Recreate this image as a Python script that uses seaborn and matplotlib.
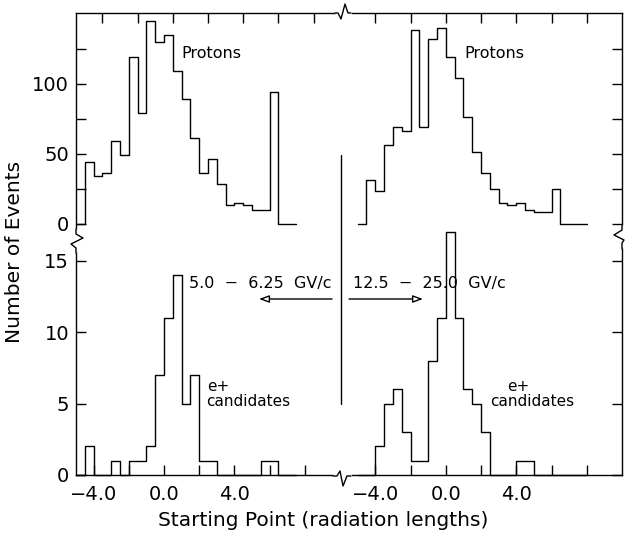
import matplotlib
matplotlib.use("Agg")

import matplotlib.pyplot as plt
import numpy as np
import pandas as pd
import seaborn as sns
from matplotlib.lines import Line2D


# -------------------------------------------------
# Data (counts per 0.5 radiation-length bin)
# -------------------------------------------------

BIN_WIDTH = 0.5

# 5.0 - 6.25 GV/c, bins start at -5.0
protons_low_first_edge = -5.0
protons_low = [0, 44, 34, 36, 59, 49, 119, 79, 145, 130,
               135, 109, 89, 61, 36, 46, 28, 13, 15, 13,
               10, 10, 94, 0, 0]

positrons_low_first_edge = -5.0
positrons_low = [0, 2, 0, 0, 1, 0, 1, 1, 2, 7,
                 11, 14, 5, 7, 1, 1, 0, 0, 0, 0,
                 0, 1, 1, 0, 0]

# 12.5 - 25.0 GV/c, bins start at -5.0
protons_high_first_edge = -5.0
protons_high = [0, 31, 23, 56, 69, 66, 138, 69, 132, 140,
                119, 104, 76, 51, 36, 25, 15, 13, 15, 10,
                8, 8, 25, 0, 0, 0]

positrons_high_first_edge = -5.0
positrons_high = [0, 0, 2, 5, 6, 3, 1, 1, 8, 11,
                  17, 11, 6, 5, 3, 0, 0, 0, 1, 1,
                  0, 0, 0, 0, 0, 0]

bottom_ticks = [-4, -2, 0, 2, 4, 6, 8]
bottom_tick_labels = ["\u22124.0", "", "0.0", "", "4.0", "", ""]
top_ticks_low = [-3.5, -1.5, 0.5, 2.5, 4.5, 6.5, 8.5]
proton_ticks = [0, 25, 50, 75, 100, 125]
proton_tick_labels = ["0", "", "50", "", "100", ""]
positron_ticks = [0, 5, 10, 15]
positron_tick_labels = ["0", "5", "10", "15"]


# -------------------------------------------------
# Helpers
# -------------------------------------------------

W, H = 625, 544


def fx(px):
    return px / W


def fy(py):
    return 1 - py / H


def step_hist(ax, counts, first_edge):
    edges = first_edge + BIN_WIDTH * np.arange(len(counts) + 1)
    hist_df = pd.DataFrame({
        "start": edges[:-1] + BIN_WIDTH / 2,
        "count": counts
    })
    sns.histplot(
        data=hist_df,
        x="start",
        weights="count",
        bins=edges.tolist(),
        element="step",
        fill=False,
        color="black",
        linewidth=1.0,
        clip_on=False,
        ax=ax
    )
    ax.set_xlabel("")
    ax.set_ylabel("")


def draw_break(fig, points, cover):
    # white out the straight spine, then draw the zigzag
    cx, cy = zip(*cover)
    fig.add_artist(Line2D([fx(v) for v in cx], [fy(v) for v in cy],
                          color="white", lw=3, transform=fig.transFigure,
                          zorder=10))
    px, py = zip(*points)
    fig.add_artist(Line2D([fx(v) for v in px], [fy(v) for v in py],
                          color="black", lw=1.0, transform=fig.transFigure,
                          zorder=11))


# -------------------------------------------------
# Figure
# -------------------------------------------------

sns.set_style("white")
plt.rcParams["font.family"] = ["DejaVu Sans"]
plt.rcParams["axes.linewidth"] = 1.0
plt.rcParams["text.color"] = "black"
plt.rcParams["axes.labelcolor"] = "black"

fig = plt.figure(figsize=(6.25, 5.44), dpi=100)

ax_tl = fig.add_axes([fx(76), fy(242), (340 - 76) / W, (242 - 13) / H])
ax_tr = fig.add_axes([fx(340), fy(242), (622 - 340) / W, (242 - 13) / H])
ax_bl = fig.add_axes([fx(76), fy(475), (340 - 76) / W, (475 - 242) / H])
ax_br = fig.add_axes([fx(340), fy(475), (622 - 340) / W, (475 - 242) / H])

step_hist(ax_tl, protons_low, protons_low_first_edge)
step_hist(ax_tr, protons_high, protons_high_first_edge)
step_hist(ax_bl, positrons_low, positrons_low_first_edge)
step_hist(ax_br, positrons_high, positrons_high_first_edge)

for ax in [ax_tl, ax_tr, ax_bl, ax_br]:
    ax.set_facecolor("none")
    ax.tick_params(direction="in", length=7, width=1.0,
                   labelsize=14, colors="black")
    for spine in ax.spines.values():
        spine.set_color("black")

for ax in [ax_tl, ax_bl]:
    ax.set_xlim(-5, 10)
for ax in [ax_tr, ax_br]:
    ax.set_xlim(-6, 10)
for ax in [ax_tl, ax_tr]:
    ax.set_ylim(-13.2, 150.4)
    ax.spines["bottom"].set_visible(False)
for ax in [ax_bl, ax_br]:
    ax.set_ylim(0, 16.3)
    ax.spines["top"].set_visible(False)

ax_tl.spines["right"].set_visible(False)
ax_bl.spines["right"].set_visible(False)
ax_tr.spines["left"].set_visible(False)
ax_br.spines["left"].set_visible(False)

# top row: ticks on top spine, proton scale
ax_tl.set_xticks(top_ticks_low)
ax_tr.set_xticks(bottom_ticks)
for ax in [ax_tl, ax_tr]:
    ax.tick_params(axis="x", top=True, bottom=False,
                   labeltop=False, labelbottom=False)
ax_tl.set_yticks(proton_ticks, proton_tick_labels)
ax_tl.tick_params(axis="y", left=True, right=False, pad=5)
ax_tr.set_yticks(proton_ticks)
ax_tr.tick_params(axis="y", left=False, right=True,
                  labelleft=False, labelright=False)

# bottom row: starting point scale, e+ counts
for ax in [ax_bl, ax_br]:
    ax.set_xticks(bottom_ticks, bottom_tick_labels)
    ax.tick_params(axis="x", top=False, bottom=True, pad=7)
ax_bl.set_yticks(positron_ticks, positron_tick_labels)
ax_bl.tick_params(axis="y", left=True, right=False, pad=5)
ax_br.set_yticks(positron_ticks)
ax_br.tick_params(axis="y", left=False, right=True,
                  labelleft=False, labelright=False)


# -------------------------------------------------
# Axis breaks
# -------------------------------------------------

draw_break(fig,
           [(335, 13), (338, 13), (341, 19), (345, 4), (348, 13), (351, 13)],
           [(337, 13), (350, 13)])
draw_break(fig,
           [(333, 476), (337, 476), (340, 471), (343, 486), (347, 476), (351, 476)],
           [(335, 476), (350, 476)])
draw_break(fig,
           [(76, 229), (76, 234), (83, 238), (71, 244), (76, 248), (76, 253)],
           [(76, 231), (76, 251)])
draw_break(fig,
           [(622, 225), (622, 230), (614, 235), (624, 240), (622, 243), (622, 249)],
           [(622, 227), (622, 247)])


# -------------------------------------------------
# Annotations
# -------------------------------------------------

fig.add_artist(Line2D([fx(341), fx(341)], [fy(155), fy(404)],
                      color="black", lw=1.0, transform=fig.transFigure))

arrow_style = dict(arrowstyle="-|>,head_length=0.6,head_width=0.22",
                   fc="white", ec="black", lw=1.0, shrinkA=0, shrinkB=0)
ax_bl.annotate("", xy=(fx(259), fy(299)), xytext=(fx(332), fy(299)),
               xycoords="figure fraction", textcoords="figure fraction",
               arrowprops=arrow_style, annotation_clip=False)
ax_bl.annotate("", xy=(fx(423), fy(299)), xytext=(fx(349), fy(299)),
               xycoords="figure fraction", textcoords="figure fraction",
               arrowprops=arrow_style, annotation_clip=False)

fig.text(fx(189), fy(288), "5.0  \u2212  6.25  GV/c",
         fontsize=11.5, ha="left", va="baseline")
fig.text(fx(353), fy(288), "12.5  \u2212  25.0  GV/c",
         fontsize=11.5, ha="left", va="baseline")

fig.text(fx(181), fy(58), "Protons", fontsize=11.5, ha="left", va="baseline")
fig.text(fx(464), fy(58), "Protons", fontsize=11.5, ha="left", va="baseline")

fig.text(fx(207), fy(391), "e+", fontsize=11, ha="left", va="baseline")
fig.text(fx(206), fy(406), "candidates", fontsize=11, ha="left", va="baseline")
fig.text(fx(507), fy(391), "e+", fontsize=11, ha="left", va="baseline")
fig.text(fx(490), fy(406), "candidates", fontsize=11, ha="left", va="baseline")

fig.text(fx(323), fy(521), "Starting Point (radiation lengths)",
         fontsize=14.5, ha="center", va="center")
fig.text(fx(15), fy(252), "Number of Events", rotation=90,
         fontsize=14.5, ha="center", va="center")

plt.savefig("out.png", dpi=100)
plt.close()
